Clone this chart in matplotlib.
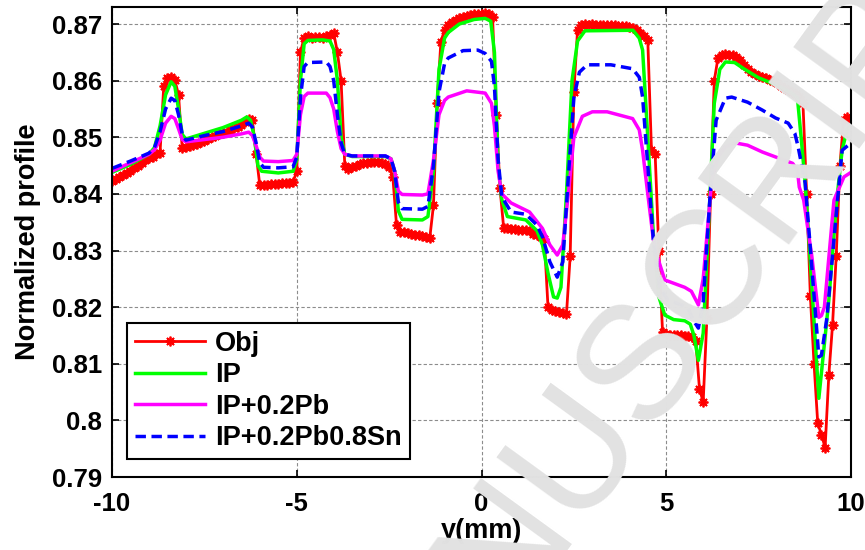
import matplotlib
matplotlib.use('Agg')
import matplotlib.pyplot as plt
import numpy as np

plt.rcParams['font.family'] = ['Liberation Sans', 'DejaVu Sans']
plt.rcParams['font.weight'] = 'bold'

# Obj profile, sampled every 0.1 mm from -10 to 10
obj_x = np.arange(-100, 101) / 10.0
obj_y = [
    0.8423, 0.8426, 0.8430, 0.8433, 0.8437, 0.8441, 0.8445, 0.8450, 0.8455, 0.8459,
    0.8463, 0.8466, 0.8470, 0.8473, 0.8590, 0.8605, 0.8606, 0.8601, 0.8575, 0.8481,
    0.8482, 0.8484, 0.8487, 0.8489, 0.8492, 0.8494, 0.8497, 0.8500, 0.8503, 0.8505,
    0.8508, 0.8510, 0.8513, 0.8516, 0.8519, 0.8522, 0.8527, 0.8533, 0.8530, 0.8470,
    0.8415, 0.8416, 0.8416, 0.8417, 0.8418, 0.8418, 0.8419, 0.8419, 0.8420, 0.8421,
    0.8440, 0.8650, 0.8676, 0.8678, 0.8676, 0.8677, 0.8677, 0.8676, 0.8678, 0.8680,
    0.8684, 0.8650, 0.8600, 0.8450, 0.8444, 0.8447, 0.8450, 0.8452, 0.8454, 0.8455,
    0.8456, 0.8456, 0.8456, 0.8455, 0.8453, 0.8448, 0.8430, 0.8345, 0.8333, 0.8332,
    0.8331, 0.8330, 0.8328, 0.8327, 0.8325, 0.8323, 0.8322, 0.8380, 0.8560, 0.8668,
    0.8690, 0.8698, 0.8703, 0.8707, 0.8710, 0.8713, 0.8715, 0.8716, 0.8717, 0.8718,
    0.8718, 0.8719, 0.8718, 0.8712, 0.8540, 0.8410, 0.8340, 0.8339, 0.8338, 0.8338,
    0.8337, 0.8337, 0.8336, 0.8334, 0.8330, 0.8327, 0.8324, 0.8320, 0.8200, 0.8195,
    0.8193, 0.8191, 0.8189, 0.8188, 0.8290, 0.8580, 0.8690, 0.8698, 0.8700, 0.8699,
    0.8700, 0.8699, 0.8699, 0.8698, 0.8699, 0.8698, 0.8698, 0.8697, 0.8697, 0.8696,
    0.8695, 0.8693, 0.8690, 0.8685, 0.8678, 0.8672, 0.8478, 0.8470, 0.8300, 0.8156,
    0.8152, 0.8151, 0.8151, 0.8150, 0.8150, 0.8149, 0.8149, 0.8148, 0.8140, 0.8055,
    0.8033, 0.8180, 0.8400, 0.8600, 0.8640, 0.8646, 0.8647, 0.8646, 0.8645, 0.8642,
    0.8636, 0.8628, 0.8620, 0.8615, 0.8612, 0.8609, 0.8607, 0.8605, 0.8602, 0.8599,
    0.8595, 0.8591, 0.8587, 0.8584, 0.8580, 0.8576, 0.8572, 0.8560, 0.8400, 0.8220,
    0.8100, 0.7995, 0.7975, 0.7952, 0.8080, 0.8168, 0.8290, 0.8450, 0.8530, 0.8535,
    0.8532,
]

# IP
ip_x = [-10, -9.5, -9.0, -8.85, -8.7, -8.55, -8.4, -8.3, -8.2, -8.1, -8.0, -7.5, -7.0, -6.5,
        -6.35, -6.25, -6.15, -6.05, -5.95, -5.5, -5.1, -5.0, -4.9, -4.8, -4.7, -4.3, -4.1,
        -4.0, -3.9, -3.8, -3.7, -3.5, -2.6, -2.45, -2.35, -2.25, -2.15, -1.6, -1.45, -1.3,
        -1.15, -1.0, -0.9, -0.6, -0.2, 0.1, 0.25, 0.35, 0.45, 0.55, 0.7, 1.2, 1.5, 1.65,
        1.8, 1.95, 2.05, 2.15, 2.3, 2.45, 2.6, 2.8, 4.1, 4.27, 4.36, 4.5, 4.65, 4.8, 4.96,
        5.2, 5.5, 5.65, 5.75, 5.87, 6.0, 6.15, 6.3, 6.45, 6.6, 6.85, 7.1, 7.5, 8.0, 8.4,
        8.55, 8.65, 8.76, 8.9, 9.13, 9.4, 9.6, 9.76, 9.9, 10.0]
ip_y = [0.8438, 0.8452, 0.8470, 0.8482, 0.8520, 0.8575, 0.8598, 0.8590, 0.8550, 0.8505,
        0.8497, 0.8507, 0.8517, 0.8530, 0.8536, 0.8530, 0.8500, 0.8450, 0.8440, 0.8437,
        0.8440, 0.8460, 0.8600, 0.8665, 0.8671, 0.8672, 0.8670, 0.8655, 0.8600, 0.8500,
        0.8470, 0.8466, 0.8466, 0.8462, 0.8440, 0.8370, 0.8355, 0.8354, 0.8360, 0.8440,
        0.8620, 0.8675, 0.8685, 0.8700, 0.8708, 0.8710, 0.8705, 0.8650, 0.8450, 0.8390,
        0.8360, 0.8354, 0.8335, 0.8310, 0.8260, 0.8218, 0.8216, 0.8235, 0.8400, 0.8600,
        0.8670, 0.8688, 0.8689, 0.8675, 0.8654, 0.8500, 0.8330, 0.8218, 0.8186, 0.8178,
        0.8176, 0.8170, 0.8150, 0.8106, 0.8154, 0.8350, 0.8560, 0.8620, 0.8633, 0.8632,
        0.8621, 0.8605, 0.8592, 0.8578, 0.8570, 0.8500, 0.8420, 0.8280, 0.8039, 0.8212,
        0.8380, 0.8477, 0.8515, 0.8520]

# IP+0.2Pb
pb_x = [-10, -9.5, -9.0, -8.85, -8.7, -8.55, -8.4, -8.3, -8.2, -8.1, -8.0, -7.5, -7.0, -6.5,
        -6.3, -6.2, -6.1, -6.0, -5.9, -5.5, -5.1, -5.0, -4.9, -4.8, -4.7, -4.2, -4.1, -4.0,
        -3.9, -3.8, -3.7, -3.5, -2.6, -2.45, -2.35, -2.25, -2.15, -1.6, -1.45, -1.3, -1.15,
        -1.0, -0.9, -0.4, 0.1, 0.27, 0.35, 0.45, 0.55, 0.8, 1.3, 1.65, 1.85, 2.05, 2.2,
        2.35, 2.5, 2.73, 3.0, 3.4, 4.09, 4.27, 4.36, 4.5, 4.65, 4.79, 4.96, 5.5, 5.68,
        5.87, 6.0, 6.23, 6.4, 6.6, 6.87, 7.2, 7.6, 8.05, 8.42, 8.55, 8.6, 8.72, 8.94, 9.13,
        9.2, 9.28, 9.54, 9.81, 10.0]
pb_y = [0.8440, 0.8455, 0.8470, 0.8478, 0.8495, 0.8525, 0.8537, 0.8533, 0.8515, 0.8496,
        0.8492, 0.8496, 0.8500, 0.8506, 0.8509, 0.8503, 0.8485, 0.8465, 0.8458, 0.8457,
        0.8459, 0.8470, 0.8540, 0.8572, 0.8578, 0.8578, 0.8570, 0.8550, 0.8510, 0.8480,
        0.8470, 0.8467, 0.8467, 0.8462, 0.8440, 0.8405, 0.8399, 0.8398, 0.8400, 0.8460,
        0.8540, 0.8565, 0.8571, 0.8582, 0.8578, 0.8560, 0.8520, 0.8440, 0.8400, 0.8384,
        0.8368, 0.8339, 0.8310, 0.8292, 0.8310, 0.8400, 0.8500, 0.8537, 0.8545, 0.8545,
        0.8533, 0.8513, 0.8477, 0.8400, 0.8320, 0.8283, 0.8248, 0.8235, 0.8228, 0.8204,
        0.8250, 0.8424, 0.8465, 0.8483, 0.8490, 0.8486, 0.8474, 0.8463, 0.8454, 0.8442,
        0.8412, 0.8389, 0.8290, 0.8182, 0.8185, 0.8200, 0.8389, 0.8430, 0.8438]

# IP+0.2Pb0.8Sn
sn_x = [-10, -9.5, -9.0, -8.85, -8.7, -8.55, -8.4, -8.3, -8.2, -8.1, -8.0, -7.5, -7.0, -6.5,
        -6.3, -6.2, -6.1, -6.0, -5.9, -5.5, -5.1, -5.0, -4.9, -4.8, -4.7, -4.2, -4.1, -4.0,
        -3.9, -3.8, -3.7, -3.5, -2.6, -2.45, -2.35, -2.25, -2.15, -1.6, -1.45, -1.3, -1.15,
        -1.0, -0.9, -0.5, -0.1, 0.1, 0.27, 0.35, 0.45, 0.55, 0.8, 1.2, 1.5, 1.65, 1.85,
        2.05, 2.2, 2.35, 2.5, 2.65, 2.86, 3.5, 4.09, 4.27, 4.36, 4.5, 4.65, 4.82, 5.05,
        5.41, 5.59, 5.73, 5.87, 6.0, 6.19, 6.35, 6.6, 6.77, 7.2, 7.6, 7.96, 8.3, 8.48,
        8.57, 8.76, 8.94, 9.13, 9.2, 9.35, 9.54, 9.76, 10.0]
sn_y = [0.8445, 0.8458, 0.8472, 0.8482, 0.8510, 0.8550, 0.8569, 0.8565, 0.8540, 0.8505,
        0.8495, 0.8503, 0.8510, 0.8520, 0.8525, 0.8518, 0.8490, 0.8455, 0.8447, 0.8446,
        0.8448, 0.8465, 0.8570, 0.8625, 0.8632, 0.8633, 0.8625, 0.8600, 0.8540, 0.8490,
        0.8470, 0.8467, 0.8467, 0.8462, 0.8440, 0.8385, 0.8374, 0.8373, 0.8378, 0.8450,
        0.8580, 0.8630, 0.8640, 0.8653, 0.8654, 0.8648, 0.8634, 0.8590, 0.8460, 0.8395,
        0.8368, 0.8364, 0.8345, 0.8324, 0.8280, 0.8253, 0.8280, 0.8430, 0.8570, 0.8615,
        0.8628, 0.8628, 0.8621, 0.8606, 0.8571, 0.8450, 0.8320, 0.8235, 0.8212, 0.8204,
        0.8198, 0.8177, 0.8163, 0.8210, 0.8400, 0.8530, 0.8569, 0.8571, 0.8562, 0.8548,
        0.8534, 0.8525, 0.8507, 0.8483, 0.8419, 0.8271, 0.8112, 0.8115, 0.8182, 0.8320,
        0.8477, 0.8490]

y_ticks = [0.79, 0.80, 0.81, 0.82, 0.83, 0.84, 0.85, 0.86, 0.87]
y_tick_labels = ['0.79', '0.8', '0.81', '0.82', '0.83', '0.84', '0.85', '0.86', '0.87']
x_ticks = [-10, -5, 0, 5, 10]

fig = plt.figure(figsize=(8.65, 5.5), dpi=100)
ax = fig.add_axes([0.1295, 0.1327, 0.8543, 0.8545])

ax.plot(obj_x, obj_y, color='#ff0000', lw=2, marker=(8, 2, 0), markersize=7,
        markeredgewidth=1.3, label='Obj')
ax.plot(ip_x, ip_y, color='#00ff00', lw=2.5, label='IP')
ax.plot(pb_x, pb_y, color='#ff00ff', lw=2.5, label='IP+0.2Pb')
ax.plot(sn_x, sn_y, color='#0000ff', lw=2.5, linestyle=(0, (3, 1.6)), label='IP+0.2Pb0.8Sn')

ax.set_xlim(-10, 10)
ax.set_ylim(0.79, 0.873)
ax.set_xticks(x_ticks)
ax.set_xticklabels([str(t) for t in x_ticks])
ax.set_yticks(y_ticks)
ax.set_yticklabels(y_tick_labels)
ax.tick_params(direction='in', top=True, right=True, length=5, width=1.2,
               labelsize=18.5)
ax.tick_params(axis='x', pad=11)
ax.tick_params(axis='y', pad=7)
for lbl in ax.get_xticklabels() + ax.get_yticklabels():
    lbl.set_fontweight('bold')
ax.grid(True, color='0.55', linestyle=(0, (3, 2)), linewidth=0.8)
for s in ax.spines.values():
    s.set_linewidth(1.5)

ax.set_xlabel('y(mm)', fontsize=19.5, fontweight='bold', labelpad=1)
ax.set_ylabel('Normalized profile', fontsize=19.5, fontweight='bold', labelpad=8)

leg = ax.legend(loc='lower left', bbox_to_anchor=(0.02, 0.038), fontsize=19.5,
                frameon=True, fancybox=False, framealpha=1, edgecolor='black',
                handlelength=2.6, handletextpad=0.35, labelspacing=0.2,
                borderpad=0.3, borderaxespad=0)
leg.get_frame().set_linewidth(1.5)
for t in leg.get_texts():
    t.set_fontweight('bold')

# watermark
fig.text(0.745, 0.355, 'MANUSCRIPT', fontsize=117, color='#e2e2e2', rotation=54,
         ha='center', va='center', fontweight='normal', zorder=10)

fig.savefig('out.png', dpi=100)
